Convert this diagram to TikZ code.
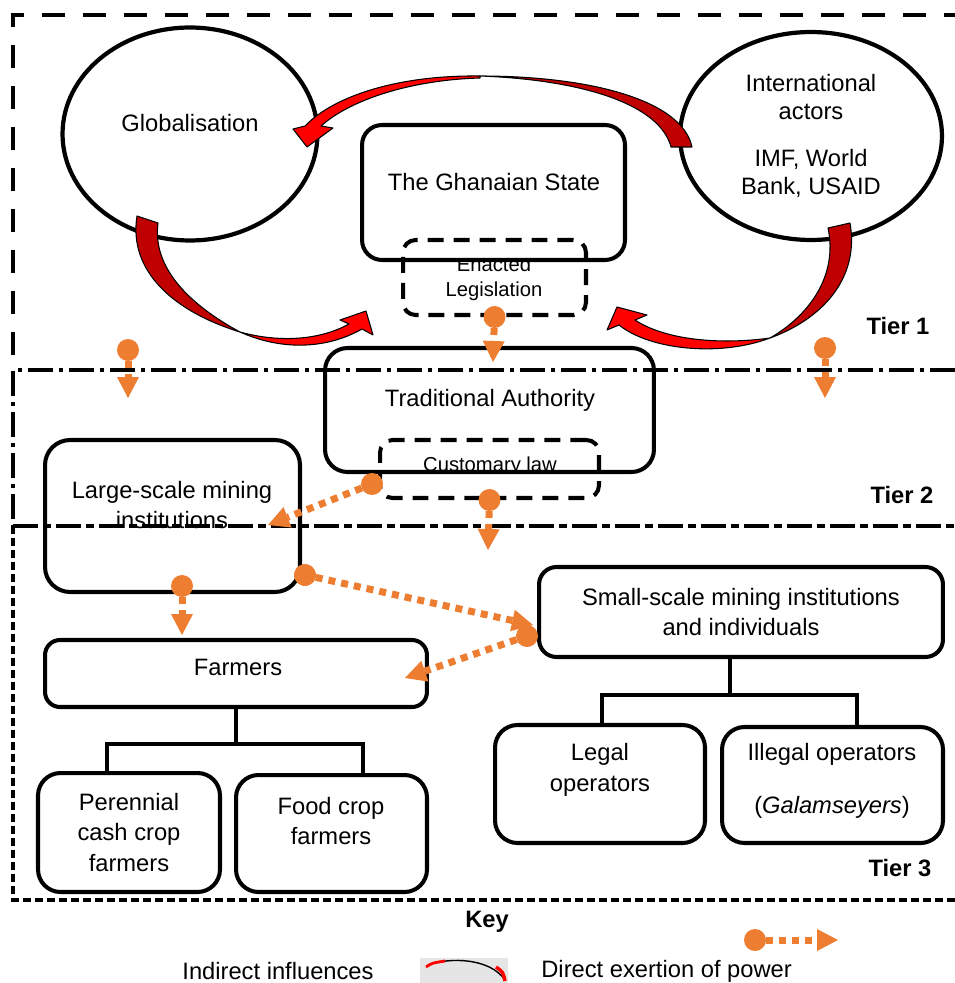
\documentclass[tikz,border=0pt]{standalone}
\usepackage{fontspec}
\setmainfont{Liberation Sans}
\usetikzlibrary{arrows.meta,shapes.geometric,positioning}
\definecolor{powerorange}{HTML}{ED7D31}
\definecolor{frontred}{HTML}{FF0000}
\definecolor{backred}{HTML}{C00000}

\begin{document}
\begin{tikzpicture}[x=0.02cm,y=-0.02cm,
  every node/.style={font=\fontsize{13.5}{17.6}\selectfont, align=center, inner sep=0pt},
  actor/.style={ellipse, draw, line width=2.4pt},
  inst/.style={rectangle, rounded corners=0.45cm, draw, line width=2.3pt},
  law/.style={rectangle, rounded corners=0.25cm, draw, line width=2.3pt, dash pattern=on 0.32cm off 0.2cm},
  smalltext/.style={font=\fontsize{11.5}{14.2}\selectfont},
  tiername/.style={font=\fontsize{13.5}{16}\selectfont\bfseries},
  tree/.style={line width=2.3pt},
  power/.style={powerorange, line width=0.14cm, dash pattern=on 0.14cm off 0.12cm, shorten <=-0.22cm,
    arrows={Circle[length=0.44cm,width=0.44cm,line width=0pt]-Triangle[length=0.42cm,width=0.44cm,line width=0pt]}},
  ribbon/.style={draw=black, line width=0.6pt, line join=round},
]
\useasboundingbox (0,0) rectangle (955,983);

% tiers
\draw[line width=2.3pt, dash pattern=on 0.46cm off 0.36cm] (13,355) -- (13,15) -- (955,15);
\draw[line width=2.3pt, dash pattern=on 0.5cm off 0.12cm on 0.08cm off 0.12cm] (955,370) -- (13,370) -- (13,526);
\draw[line width=1.8pt, dash pattern=on 0.5cm off 0.1cm on 0.16cm off 0.1cm] (13,526) -- (955,526);
\draw[line width=1.8pt, dash pattern=on 0.16cm off 0.08cm] (13,526) -- (13,900) -- (955,900);
\node[tiername] (tier1) at (898,326) {Tier 1};
\node[tiername] (tier2) at (902,495) {Tier 2};
\node[tiername] (tier3) at (900,868) {Tier 3};

% tier 1
\node[actor, minimum width=5.1cm, minimum height=4.26cm] (glob) at (190,134) {};
\node (glob-t) at (190,123) {Globalisation};
\node[actor, minimum width=5.24cm, minimum height=4.16cm, font=\fontsize{13.5}{15.9}\selectfont] (intl) at (811,136)
  {International\\actors\\[10.8pt]IMF, World\\Bank, USAID};
\node[inst, rounded corners=0.4cm, minimum width=5.26cm, minimum height=2.7cm] (state) at (493.5,192.5) {};
\node (state-t) at (494,182) {The Ghanaian State};
\node[law, minimum width=3.66cm, minimum height=1.5cm] (enact) at (494.5,277.5) {};
\begin{scope}
  \clip (403,259) rectangle (586,315);
  \node[smalltext] (enact-t) at (494,278.5) {Enacted\\Legislation};
\end{scope}

% tier 2
\node[inst, minimum width=6.58cm, minimum height=2.48cm] (trad) at (489.5,410) {};
\node (trad-t) at (490,400) {Traditional Authority};
\node[law, minimum width=4.38cm, minimum height=1.16cm] (cust) at (489.5,469) {};
\begin{scope}
  \clip (380,440) rectangle (599,471);
  \node[smalltext] (cust-t) at (490,466) {Customary law};
\end{scope}
\node[inst, rounded corners=0.5cm, minimum width=5.1cm, minimum height=3.04cm] (large) at (172.5,516) {};
\node (large-t) at (172,505) {Large-scale mining\\institutions};

% tier 3
\node[inst, rounded corners=0.3cm, minimum width=7.64cm, minimum height=1.34cm] (farm) at (236,673.5) {};
\node (farm-t) at (238,667) {Farmers};
\node[inst, minimum width=3.64cm, minimum height=2.38cm] (peren) at (129,832.5) {Perennial\\cash crop\\farmers};
\node[inst, minimum width=3.82cm, minimum height=2.34cm] (food) at (331.5,833.5) {};
\node (food-t) at (331,821) {Food crop\\farmers};
\node[inst, rounded corners=0.35cm, minimum width=8.08cm, minimum height=1.8cm] (small) at (741,612)
  {Small-scale mining institutions\\and individuals};
\node[inst, minimum width=4.2cm, minimum height=2.36cm] (legal) at (600,784) {};
\node (legal-t) at (600,770) {Legal\\operators};
\node[inst, minimum width=4.42cm, minimum height=2.32cm] (illeg) at (832.5,785) {};
\node (illeg-t) at (832,781) {Illegal operators\\[12.5pt](\textit{Galamseyers})};

\draw[tree] (farm.south) -- ++(0,35) coordinate (fj);
\draw[tree] ([xshift=-0.44cm]peren.north) |- (fj) -| ([xshift=0.63cm]food.north);
\draw[tree] ([xshift=-0.22cm]small.south) -- ++(0,36) coordinate (sj);
\draw[tree] ([xshift=0.04cm]legal.north) |- (sj) -| ([xshift=0.49cm]illeg.north);

% indirect influences (red ribbons)
\filldraw[ribbon, fill=backred] (692,147) .. controls (682,100) and (590,76) .. (480,76)
  .. controls (585,80) and (660,105) .. (671,147) -- cycle;
\filldraw[ribbon, fill=frontred] (480,76) .. controls (400,75) and (335,95) .. (305,126)
  -- (293,129) -- (307,147) -- (333,128) -- (321,126) .. controls (350,100) and (410,80) .. (480,78) -- cycle;
\filldraw[ribbon, fill=backred] (137,216) .. controls (128,272) and (175,312) .. (240,332)
  .. controls (190,305) and (152,268) .. (158,223) -- cycle;
\filldraw[ribbon, fill=frontred] (240,332) .. controls (280,350) and (325,350) .. (362,329)
  -- (373,335) -- (366,311) -- (340,320) -- (349,324) .. controls (320,340) and (280,343) .. (240,332) -- cycle;
\filldraw[ribbon, fill=backred] (850,223) .. controls (860,280) and (820,320) .. (770,338)
  .. controls (810,315) and (838,275) .. (828,228) -- cycle;
\filldraw[ribbon, fill=frontred] (770,338) .. controls (720,357) and (650,350) .. (619,325)
  -- (607,330) -- (617,307) -- (647,315) -- (635,320) .. controls (665,340) and (720,345) .. (770,338) -- cycle;

% direct exertion of power (orange)
\coordinate (lt-src) at (128,350);  \coordinate (lt-dst) at (128,398);
\coordinate (rt-src) at (825,348);  \coordinate (rt-dst) at (825,398);
\coordinate (trad-in) at (493,362);
\coordinate (tier3-in) at (488,550);
\coordinate (cust-src) at (372,484); \coordinate (large-in) at (268,525);
\coordinate (large-src) at (182,586); \coordinate (farm-in) at (182,635);
\coordinate (large-src2) at (305,575); \coordinate (small-in) at (533,625);
\coordinate (small-src) at (527,636); \coordinate (farm-in2) at (405,678);
\draw[power] (lt-src) -- (lt-dst);
\draw[power] (rt-src) -- (rt-dst);
\draw[power] (enact.south) -- (trad-in);
\draw[power] (cust.south) -- (tier3-in);
\draw[power] (cust-src) -- (large-in);
\draw[power] (large-src) -- (farm-in);
\draw[power] (large-src2) -- (small-in);
\draw[power] (small-src) -- (farm-in2);

% key
\node[tiername] (key) at (487,922) {Key};
\coordinate (key-src) at (755,940); \coordinate (key-dst) at (838,940);
\draw[power] (key-src) -- (key-dst);
\node (key-ind) at (278,971) {Indirect influences};
\node[fill=gray!20, minimum width=1.76cm, minimum height=0.5cm] (key-icon) at (464,970.5) {};
\draw[line width=0.8pt] (428,965) .. controls (450,957) and (490,958) .. (505,980);
\draw[frontred, line width=1.6pt] (426,967) .. controls (432,963) .. (445,961);
\draw[frontred, line width=2pt] (496,967) .. controls (503,972) .. (505,981);
\node[anchor=west] (key-dir) at (541,971) {Direct exertion of power};
\end{tikzpicture}
\end{document}
